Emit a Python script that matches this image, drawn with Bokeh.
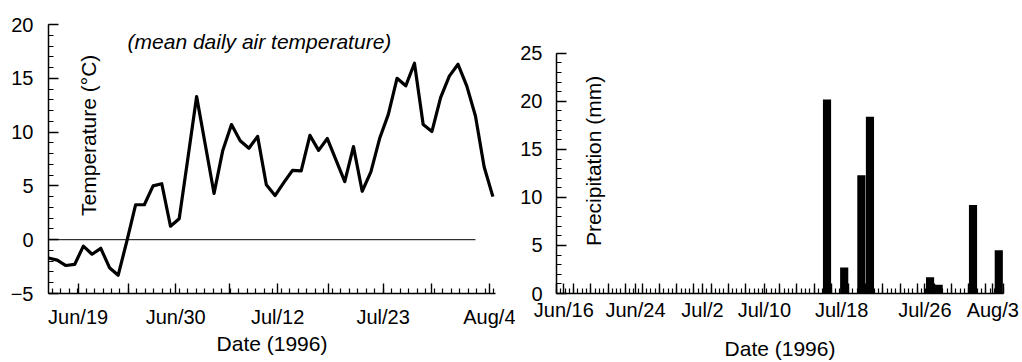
from math import pi

from bokeh.embed import file_html
from bokeh.layouts import row
from bokeh.models import FixedTicker, Label, Range1d
from bokeh.plotting import figure
from bokeh.resources import INLINE

# ---- data: 52 consecutive days, summer 1996 ----
day = list(range(52))

temp_c = [-1.7, -1.9, -2.4, -2.3, -0.6, -1.35, -0.8, -2.6, -3.3, -0.1,
          3.25, 3.25, 5.0, 5.2, 1.25, 1.95, 7.6, 13.3, 8.8, 4.3,
          8.3, 10.7, 9.2, 8.5, 9.6, 5.1, 4.1, 5.3, 6.45, 6.4,
          9.7, 8.3, 9.4, 7.4, 5.4, 8.65, 4.5, 6.3, 9.4, 11.65,
          15.0, 14.3, 16.4, 10.7, 10.05, 13.2, 15.2, 16.3, 14.3, 11.5,
          6.75, 4.0]

precip_mm = [0, 0, 0, 0, 0, 0, 0, 0, 0, 0,
             0, 0, 0, 0, 0, 0, 0, 0, 0, 0,
             0, 0, 0, 0, 0, 0, 0, 0, 0, 0,
             0, 20.2, 0, 2.7, 0, 12.3, 18.4, 0, 0, 0,
             0, 0, 0, 1.7, 0.9, 0, 0, 0, 9.2, 0,
             0, 4.5]

temp_tick_labels = ["Jun/19", "Jun/30", "Jul/12", "Jul/23", "Aug/4"]
precip_tick_labels = ["Jun/16", "Jun/24", "Jul/2", "Jul/10", "Jul/18", "Jul/26", "Aug/3"]

FONT = "Liberation Sans"


def style_axis(ax, label_standoff):
    ax.axis_line_width = 1.5
    ax.axis_line_color = "black"
    ax.major_tick_in = 10
    ax.major_tick_out = 0
    ax.minor_tick_in = 5
    ax.minor_tick_out = 0
    ax.major_tick_line_width = 1.4
    ax.minor_tick_line_width = 1.2
    ax.major_tick_line_color = "black"
    ax.minor_tick_line_color = "black"
    ax.major_label_text_font = FONT
    ax.major_label_text_font_size = "20px"
    ax.major_label_text_color = "black"
    ax.major_label_standoff = label_standoff
    ax.axis_label_text_font = FONT
    ax.axis_label_text_font_size = "21px"
    ax.axis_label_text_font_style = "normal"
    ax.axis_label_text_color = "black"


def date_ticker(ax, label_pos, labels, plain_majors, minors):
    ticks = sorted(list(label_pos) + list(plain_majors))
    ax.ticker = FixedTicker(ticks=ticks, minor_ticks=minors)
    overrides = {float(t): "" for t in plain_majors}
    overrides.update({float(t): s for t, s in zip(label_pos, labels)})
    ax.major_label_overrides = overrides


def bare_figure(width, x_range, y_range, border_left, border_right):
    p = figure(width=width, height=362, output_backend="svg", toolbar_location=None,
               x_range=x_range, y_range=y_range,
               min_border_left=border_left, min_border_right=border_right,
               min_border_top=24, min_border_bottom=68)
    p.outline_line_color = None
    p.xgrid.visible = False
    p.ygrid.visible = False
    p.background_fill_color = "white"
    p.border_fill_color = "white"
    return p


# ---- left panel: mean daily air temperature ----
p1 = bare_figure(515, Range1d(0, 51.3), Range1d(-5, 20), 48, 20)

p1.line([day[0], day[-3]], [0, 0], line_color="black", line_width=1)
p1.line(day, temp_c, line_color="black", line_width=3.2, line_join="round")

xa = p1.xaxis[0]
style_axis(xa, 12)
xa.axis_label = "Date (1996)"
xa.axis_label_standoff = 1
step = 5.85 / 6
date_ticker(xa, [3.4, 14.6, 26.3, 38.4, 50.6], temp_tick_labels,
            [9.2, 20.8, 32.1, 43.9],
            [3.33 + step * k for k in range(-3, 50) if 0 <= 3.33 + step * k <= 51.3])

ya = p1.yaxis[0]
style_axis(ya, 15)
ya.ticker = FixedTicker(ticks=[-5, 0, 5, 10, 15, 20], minor_ticks=list(range(-5, 21)))

p1.add_layout(Label(x=9.07, y=18.4, text="(mean daily air temperature)",
                    text_font=FONT, text_font_size="21px", text_font_style="italic",
                    text_align="left", text_baseline="middle", text_color="black"))
p1.add_layout(Label(x=4.6, y=9.7, text="Temperature (°C)", angle=pi / 2,
                    text_font=FONT, text_font_size="21px",
                    text_align="center", text_baseline="middle", text_color="black"))

# ---- right panel: daily precipitation ----
# the frame shares its top with the left panel; the axis itself stops at 25 mm
p2 = bare_figure(507, Range1d(0, 52.05), Range1d(0, 28.0), 41, 19)

wet = [(d + 0.5, v) for d, v in zip(day, precip_mm) if v > 0]
p2.vbar(x=[w[0] for w in wet], top=[w[1] for w in wet], bottom=0, width=0.95,
        fill_color="black", line_color=None)

xb = p2.xaxis[0]
style_axis(xb, 5)
xb.axis_label = "Date (1996)"
xb.axis_label_standoff = 13
precip_label_pos = [0.85, 9.2, 17.0, 24.2, 33.2, 42.9, 50.8]
even_days = [d for d in range(0, 53, 2)
             if all(abs(d - lp) > 0.5 for lp in precip_label_pos)]
date_ticker(xb, precip_label_pos, precip_tick_labels, even_days,
            [k * 0.5 for k in range(0, 105)])

yb = p2.yaxis[0]
style_axis(yb, 14)
yb.bounds = (0, 25)
yb.ticker = FixedTicker(ticks=[0, 5, 10, 15, 20, 25], minor_ticks=list(range(0, 26)))

p2.add_layout(Label(x=4.3, y=13.8, text="Precipitation (mm)", angle=pi / 2,
                    text_font=FONT, text_font_size="21px",
                    text_align="center", text_baseline="middle", text_color="black"))

layout = row(p1, p2)
open("out.html", "w").write(file_html(layout, INLINE))
